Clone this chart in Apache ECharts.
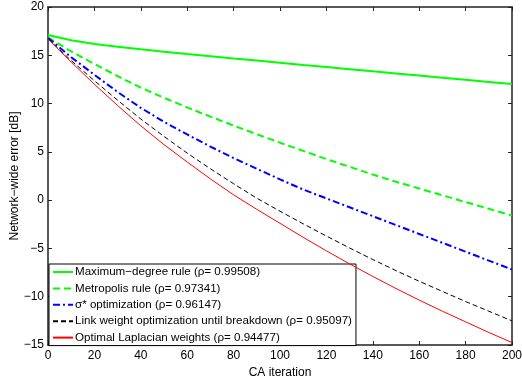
<!DOCTYPE html>
<html>
<head>
<meta charset="utf-8">
<script src="https://cdn.jsdelivr.net/npm/echarts@6/dist/echarts.min.js"></script>
<style>
  html, body { margin: 0; padding: 0; background: #fff; }
  #chart { width: 522px; height: 377px; }
</style>
</head>
<body>
<div id="chart"></div>
<script>
const iterations = [0, 10, 20, 30, 40, 50, 60, 70, 80, 90, 100, 110, 120, 130, 140, 150, 160, 170, 180, 190, 200];

const maxDegree = [17.1, 16.55, 16.17, 15.88, 15.62, 15.37, 15.13, 14.9, 14.67, 14.45, 14.23, 14.0, 13.78, 13.56, 13.34, 13.12, 12.9, 12.68, 12.46, 12.24, 12.02];
const metropolis = [16.85, 15.4, 14.1, 12.85, 11.65, 10.6, 9.6, 8.65, 7.72, 6.82, 5.95, 5.1, 4.25, 3.45, 2.65, 1.9, 1.2, 0.5, -0.2, -0.9, -1.6];
const sigmaOpt = [16.8, 14.8, 12.98, 11.2, 9.56, 8.1, 6.8, 5.55, 4.35, 3.25, 2.15, 1.1, 0.18, -0.74, -1.66, -2.58, -3.5, -4.42, -5.34, -6.26, -7.18];
const linkWeight = [16.7, 14.45, 12.37, 10.35, 8.4, 6.6, 4.87, 3.25, 1.7, 0.2, -1.15, -2.45, -3.72, -4.95, -6.15, -7.3, -8.4, -9.45, -10.5, -11.5, -12.5];
const laplacian = [16.7, 14.3, 12.0, 9.8, 7.7, 5.75, 3.95, 2.2, 0.55, -0.95, -2.4, -3.85, -5.25, -6.6, -7.9, -9.15, -10.35, -11.5, -12.6, -13.7, -14.75];

const seriesNames = [
  'Maximum\u2212degree rule (\u03c1= 0.99508)',
  'Metropolis rule (\u03c1= 0.97341)',
  '\u03c3* optimization (\u03c1= 0.96147)',
  'Link weight optimization until breakdown (\u03c1= 0.95097)',
  'Optimal Laplacian weights (\u03c1= 0.94477)'
];

const FONT = '"Liberation Sans", Arial, Helvetica, sans-serif';
const pairs = vals => iterations.map((x, i) => [x, vals[i]]);
const minusFmt = v => String(v).replace('-', '\u2212');

const STYLES = [
  { data: maxDegree, color: '#00ff00', width: 2, type: 'solid' },
  { data: metropolis, color: '#00ff00', width: 2, type: [7, 4] },
  { data: sigmaOpt, color: '#0000ff', width: 2, type: [7, 3, 2, 3] },
  { data: linkWeight, color: '#000000', width: 1, type: [5, 3] },
  { data: laplacian, color: '#ff0000', width: 1, type: 'solid' }
];

const chart = echarts.init(document.getElementById('chart'));

const axisLine = { show: true, onZero: false, lineStyle: { color: '#222', width: 1.5 } };
const tick = { show: true, inside: true, length: 4, lineStyle: { color: '#222', width: 1 } };

chart.setOption({
  animation: false,
  textStyle: { fontFamily: FONT },
  grid: { left: 48, right: 10, top: 7, bottom: 32, outerBoundsMode: 'none' },
  legend: {
    orient: 'vertical',
    left: 49,
    top: 264,
    backgroundColor: '#fff',
    borderColor: '#000',
    borderWidth: 1,
    padding: [2, 4, 2, 3],
    itemGap: 4.4,
    itemWidth: 20,
    itemHeight: 12,
    itemStyle: { color: 'transparent', borderColor: 'transparent', borderWidth: 0 },
    textStyle: { fontFamily: FONT, fontSize: 11.6, color: '#000', padding: [0, 0, 0, -3] },
    data: seriesNames
  },
  xAxis: [
    {
      type: 'value', min: 0, max: 200, interval: 20,
      name: 'CA iteration', nameLocation: 'middle', nameGap: 19,
      nameTextStyle: { fontFamily: FONT, fontSize: 12, color: '#000' },
      axisLine, axisTick: tick, splitLine: { show: false },
      axisLabel: { fontFamily: FONT, fontSize: 12, color: '#000', margin: 5 }
    },
    {
      type: 'value', min: 0, max: 200, interval: 20, position: 'top',
      axisLine, axisTick: tick, splitLine: { show: false }, axisLabel: { show: false }
    }
  ],
  yAxis: [
    {
      type: 'value', min: -15, max: 20, interval: 5,
      name: 'Network\u2212wide error [dB]', nameLocation: 'middle', nameGap: 27,
      nameMoveOverlap: false,
      nameTextStyle: { fontFamily: FONT, fontSize: 12, color: '#000' },
      axisLine, axisTick: tick, splitLine: { show: false },
      axisLabel: { fontFamily: FONT, fontSize: 12, color: '#000', margin: 4, formatter: minusFmt }
    },
    {
      type: 'value', min: -15, max: 20, interval: 5, position: 'right',
      axisLine, axisTick: tick, splitLine: { show: false }, axisLabel: { show: false }
    }
  ],
  series: STYLES.map((s, i) => ({
    name: seriesNames[i],
    type: 'line',
    data: pairs(s.data),
    showSymbol: false,
    symbol: 'none',
    color: s.color,
    lineStyle: { color: s.color, width: s.width, type: s.type },
    z: 2 + i
  }))
});
</script>
</body>
</html>
